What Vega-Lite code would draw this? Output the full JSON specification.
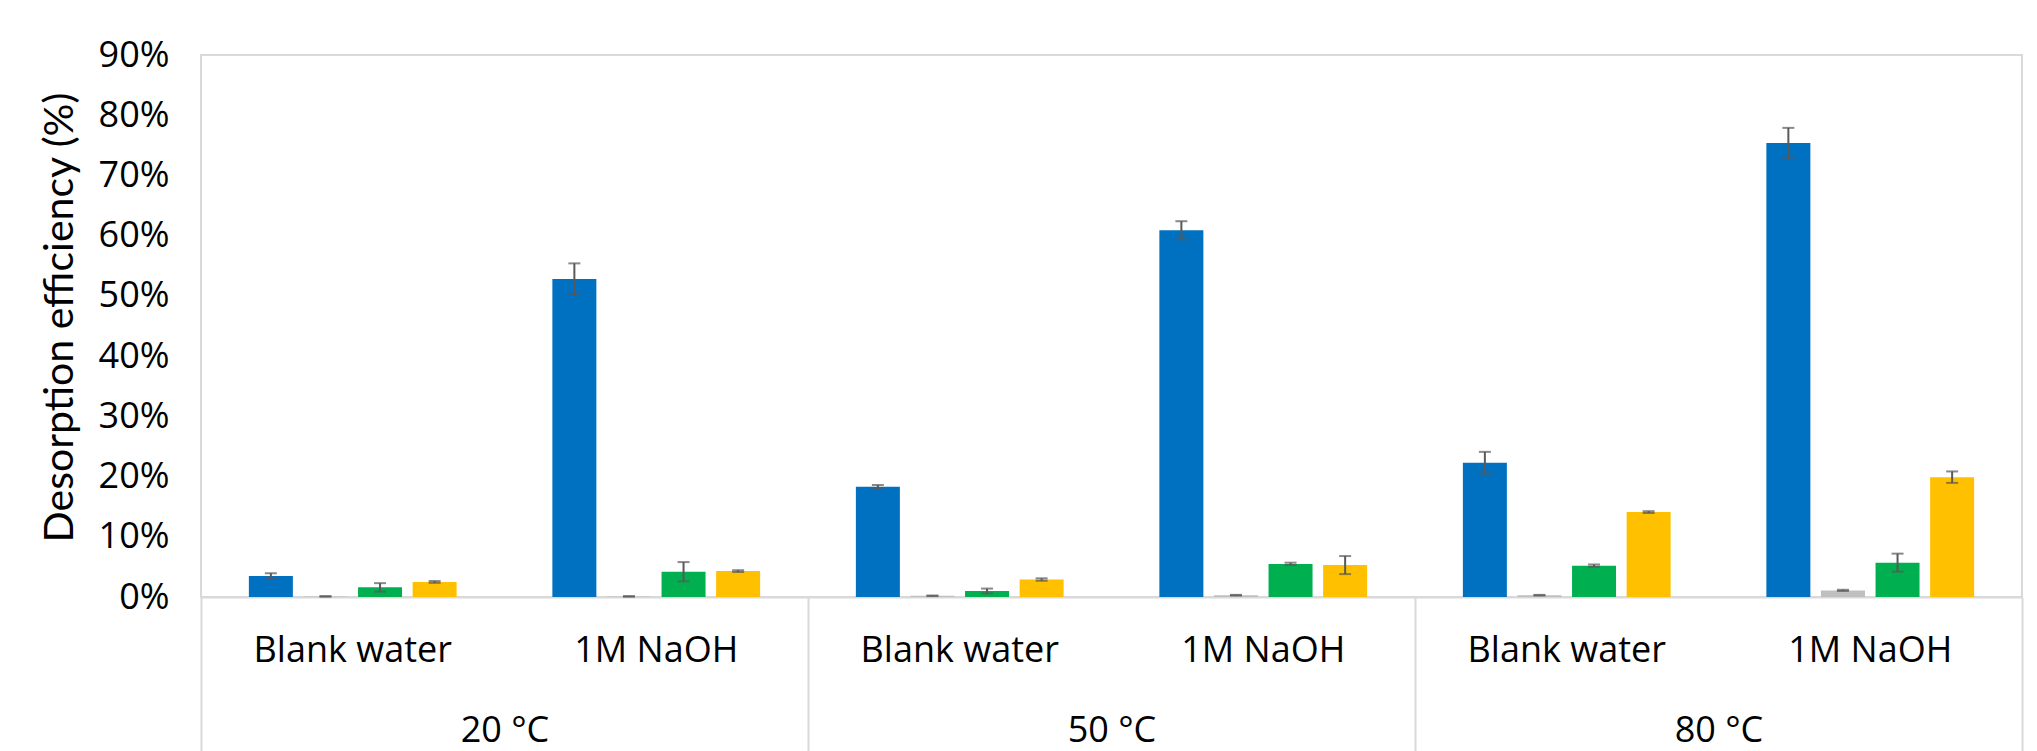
{
  "$schema": "https://vega.github.io/schema/vega-lite/v6.json",
  "width": 1821,
  "height": 542,
  "autosize": {"type": "none"},
  "padding": {"left": 201, "top": 55, "right": 15, "bottom": 154},
  "background": "white",
  "config": {
    "view": {"stroke": "#d9d9d9", "strokeWidth": 2},
    "font": "Open Sans"
  },
  "data": {
    "values": [
      {"temp": "20 °C", "cat": "20|Blank water", "series": "S1", "value": 3.5, "low": 3.05, "high": 3.95},
      {"temp": "20 °C", "cat": "20|Blank water", "series": "S2", "value": 0.1, "low": 0.05, "high": 0.15},
      {"temp": "20 °C", "cat": "20|Blank water", "series": "S3", "value": 1.6, "low": 0.9, "high": 2.3},
      {"temp": "20 °C", "cat": "20|Blank water", "series": "S4", "value": 2.5, "low": 2.35, "high": 2.65},
      {"temp": "20 °C", "cat": "20|1M NaOH", "series": "S1", "value": 52.8, "low": 50.2, "high": 55.4},
      {"temp": "20 °C", "cat": "20|1M NaOH", "series": "S2", "value": 0.1, "low": 0.05, "high": 0.15},
      {"temp": "20 °C", "cat": "20|1M NaOH", "series": "S3", "value": 4.2, "low": 2.6, "high": 5.8},
      {"temp": "20 °C", "cat": "20|1M NaOH", "series": "S4", "value": 4.3, "low": 4.15, "high": 4.45},
      {"temp": "50 °C", "cat": "50|Blank water", "series": "S1", "value": 18.3, "low": 18.0, "high": 18.6},
      {"temp": "50 °C", "cat": "50|Blank water", "series": "S2", "value": 0.2, "low": 0.15, "high": 0.25},
      {"temp": "50 °C", "cat": "50|Blank water", "series": "S3", "value": 1.0, "low": 0.6, "high": 1.4},
      {"temp": "50 °C", "cat": "50|Blank water", "series": "S4", "value": 2.9, "low": 2.7, "high": 3.1},
      {"temp": "50 °C", "cat": "50|1M NaOH", "series": "S1", "value": 60.9, "low": 59.4, "high": 62.4},
      {"temp": "50 °C", "cat": "50|1M NaOH", "series": "S2", "value": 0.3, "low": 0.25, "high": 0.35},
      {"temp": "50 °C", "cat": "50|1M NaOH", "series": "S3", "value": 5.5, "low": 5.3, "high": 5.7},
      {"temp": "50 °C", "cat": "50|1M NaOH", "series": "S4", "value": 5.3, "low": 3.8, "high": 6.8},
      {"temp": "80 °C", "cat": "80|Blank water", "series": "S1", "value": 22.3, "low": 20.5, "high": 24.1},
      {"temp": "80 °C", "cat": "80|Blank water", "series": "S2", "value": 0.3, "low": 0.25, "high": 0.35},
      {"temp": "80 °C", "cat": "80|Blank water", "series": "S3", "value": 5.2, "low": 5.0, "high": 5.4},
      {"temp": "80 °C", "cat": "80|Blank water", "series": "S4", "value": 14.1, "low": 13.95, "high": 14.25},
      {"temp": "80 °C", "cat": "80|1M NaOH", "series": "S1", "value": 75.4, "low": 72.9, "high": 77.9},
      {"temp": "80 °C", "cat": "80|1M NaOH", "series": "S2", "value": 1.1, "low": 1.0, "high": 1.2},
      {"temp": "80 °C", "cat": "80|1M NaOH", "series": "S3", "value": 5.7, "low": 4.2, "high": 7.2},
      {"temp": "80 °C", "cat": "80|1M NaOH", "series": "S4", "value": 19.9, "low": 18.95, "high": 20.85}
    ]
  },
  "resolve": {"scale": {"x": "independent"}, "axis": {"x": "independent"}},
  "layer": [
    {
      "encoding": {
        "x": {
          "field": "cat", "type": "nominal", "sort": null,
          "scale": {"paddingInner": 0, "paddingOuter": 0},
          "axis": {
            "orient": "bottom", "title": null,
            "labelExpr": "split(datum.value, '|')[1]",
            "labelAngle": 0, "labelFont": "Open Sans", "labelFontSize": 36, "labelColor": "#000000",
            "labelBaseline": "middle", "labelPadding": 53, "labelLimit": 0,
            "ticks": false, "domain": true, "domainColor": "#d9d9d9", "domainWidth": 2, "grid": false
          }
        },
        "xOffset": {
          "field": "series", "type": "nominal",
          "scale": {"paddingInner": 0.194, "paddingOuter": 0.877}
        }
      },
      "layer": [
        {
          "mark": {"type": "bar"},
          "encoding": {
            "y": {
              "field": "value", "type": "quantitative",
              "scale": {"domain": [0, 90], "nice": false},
              "axis": {
                "values": [0, 10, 20, 30, 40, 50, 60, 70, 80, 90],
                "labelExpr": "datum.value + '%'",
                "labelFont": "Open Sans", "labelFontSize": 36, "labelColor": "#000000",
                "labelPadding": 32, "ticks": false, "domain": false, "grid": false,
                "title": "Desorption efficiency (%)",
                "titleFont": "Lato", "titleFontSize": 41, "titleFontWeight": "normal", "titleColor": "#000000",
                "titleX": -141, "titleY": 262, "titleAngle": -90, "titleBaseline": "middle", "titleAlign": "center"
              }
            },
            "color": {
              "field": "series", "type": "nominal", "legend": null,
              "scale": {"domain": ["S1", "S2", "S3", "S4"], "range": ["#0070C0", "#BFBFBF", "#00B050", "#FFC000"]}
            }
          }
        },
        {
          "mark": {"type": "rule", "color": "#595959", "strokeWidth": 2},
          "encoding": {
            "y": {"field": "low", "type": "quantitative"},
            "y2": {"field": "high"}
          }
        },
        {
          "mark": {"type": "tick", "color": "#595959", "size": 12, "thickness": 2, "orient": "horizontal"},
          "encoding": {"y": {"field": "low", "type": "quantitative"}}
        },
        {
          "mark": {"type": "tick", "color": "#595959", "size": 12, "thickness": 2, "orient": "horizontal"},
          "encoding": {"y": {"field": "high", "type": "quantitative"}}
        }
      ]
    },
    {
      "mark": {"type": "tick", "opacity": 0},
      "encoding": {
        "x": {
          "field": "temp", "type": "nominal", "sort": null,
          "scale": {"paddingInner": 0, "paddingOuter": 0},
          "axis": {
            "orient": "bottom", "title": null, "labelAngle": 0,
            "labelFont": "Open Sans", "labelFontSize": 36, "labelColor": "#000000",
            "labelBaseline": "middle", "labelPadding": -23, "labelLimit": 0,
            "domain": false, "grid": false,
            "ticks": true, "tickBand": "extent", "tickSize": 156, "tickColor": "#d9d9d9", "tickWidth": 2
          }
        },
        "y": {"field": "value", "type": "quantitative"}
      }
    }
  ]
}
